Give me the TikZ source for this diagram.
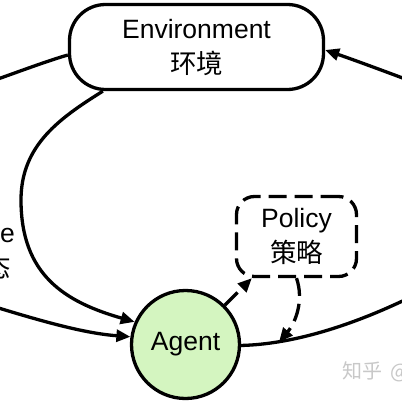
\documentclass[tikz,border=0pt]{standalone}
\usepackage{fontspec}
\setmainfont{Liberation Sans}
\newfontfamily\cjk{Noto Sans CJK SC}
\usetikzlibrary{arrows.meta}
\definecolor{agentgreen}{RGB}{212,245,192}
\definecolor{wmgray}{RGB}{200,200,200}
\begin{document}
\begin{tikzpicture}[x=1pt,y=-1pt,
  conn/.style={line width=3.3pt},
  tip/.style={-{Triangle[length=14pt,width=12pt]}},
  dashline/.style={dash pattern=on 18pt off 8pt},
  lbl/.style={font=\fontsize{26.5}{35}\selectfont, align=center, inner sep=0pt}
]
\useasboundingbox (0,0) rectangle (402,402);
\fill[white] (0,0) rectangle (402,402);
\clip (0,0) rectangle (402,402);

\node[draw, line width=3.3pt, rounded corners=36pt, minimum width=254pt, minimum height=85pt, lbl] (env) at (196.5,47) {Environment\\{\cjk 环境}};
\node[draw, line width=3.3pt, dashline, rounded corners=18pt, minimum width=120pt, minimum height=80pt, lbl] (pol) at (296.5,236.5) {Policy\\{\cjk 策略}};
\node[circle, draw, line width=3.3pt, fill=agentgreen, minimum size=108pt, lbl] (agent) at (185.5,344.5) {Agent};
\node[lbl] (state) at (-16,252) {State\\{\cjk 状态}};
\node[anchor=west, inner sep=0pt, text=wmgray, font={\cjk\fontsize{20}{24}\selectfont}] (wm) at (342,372) {知乎\hspace{8pt}@};

\coordinate (lt) at (-40,92);
\coordinate (lb) at (-40,296);
\coordinate (rb) at (440,282);
\coordinate (rt) at (440,92);
\coordinate (hit) at (279,342);

\draw[conn,tip] ([xshift=35pt]env.south west) .. controls (60,118) and (21,145) .. (21,200) .. controls (21,275) and (65,302) .. (agent.156);
\draw[conn] (lt) .. controls (0,79) and (40,63) .. ([yshift=-8pt]env.west);
\draw[conn,tip] (lb) .. controls (30,318) and (80,333) .. (agent.172);
\draw[conn] (agent.-1) .. controls (300,344) and (370,320) .. (rb);
\draw[conn,tip] (rt) .. controls (400,77) and (360,62) .. ([yshift=-3pt]env.east);
\draw[conn,dashline,tip] (agent.45) -- (pol.223);
\draw[conn,dashline,tip] (pol.south) .. controls (304,300) and (296,322) .. (hit);
\end{tikzpicture}
\end{document}
